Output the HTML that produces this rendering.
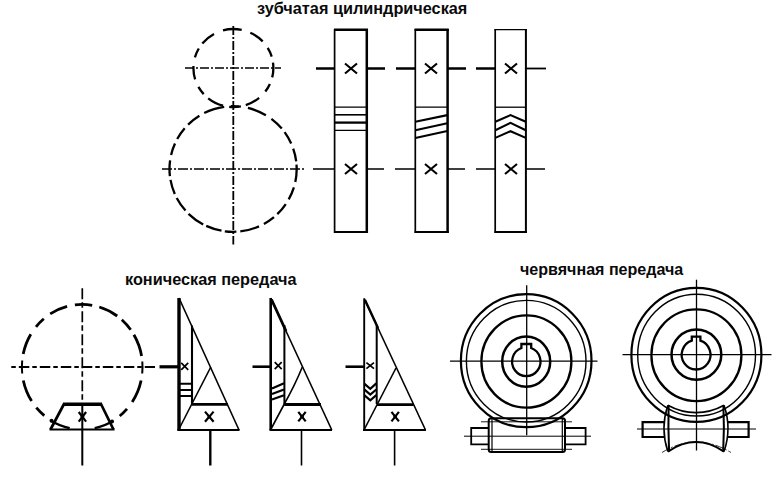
<!DOCTYPE html>
<html><head><meta charset="utf-8">
<style>
html,body{margin:0;padding:0;background:#fff;}
body{width:779px;height:478px;overflow:hidden;position:relative;font-family:"Liberation Sans",sans-serif;}
.t{position:absolute;font-weight:bold;font-size:17px;color:#0a0a0a;white-space:nowrap;line-height:1;transform:scaleX(0.957);transform-origin:0 0;}
svg{position:absolute;left:0;top:0;}
</style></head><body>
<div class="t" id="t1" style="left:257.1px;top:-0.1px;">зубчатая цилиндрическая</div>
<div class="t" id="t2" style="left:124.8px;top:270.9px;">коническая передача</div>
<div class="t" id="t3" style="left:519.9px;top:261.1px;transform:scaleX(0.945);">червячная передача</div>
<svg width="779" height="478" viewBox="0 0 779 478" fill="none" stroke="#000" stroke-linecap="butt">

<g id="circles">
<path d="M223.0 30.3A40 39 0 0 1 241.7 29.9M250.3 32.7A40 39 0 0 1 262.7 41.4M267.7 47.9A40 39 0 0 1 271.7 56.6M273.0 62.6A40 39 0 0 1 272.2 77.4M269.9 83.9A40 39 0 0 1 265.3 91.5M259.1 97.9A40 39 0 0 1 245.8 105.1M239.0 106.6A40 39 0 0 1 229.2 106.8M223.0 105.7A40 39 0 0 1 208.2 98.3M203.7 94.1A40 39 0 0 1 198.4 86.9M195.1 79.4A40 39 0 0 1 193.5 66.0M194.9 57.3A40 39 0 0 1 198.8 48.5M202.3 43.5A40 39 0 0 1 214.0 33.9" stroke-width="2.3"/>
<path d="M230.9 106.2A63.6 62.8 0 0 1 240.9 106.7M247.9 107.9A63.6 62.8 0 0 1 265.9 115.2M271.4 118.8A63.6 62.8 0 0 1 281.8 128.6M284.6 132.1A63.6 62.8 0 0 1 291.2 143.5M293.2 148.6A63.6 62.8 0 0 1 296.2 161.3M296.5 164.6A63.6 62.8 0 0 1 295.3 182.1M293.9 187.4A63.6 62.8 0 0 1 288.7 199.4M285.8 204.1A63.6 62.8 0 0 1 277.3 214.2M274.0 217.1A63.6 62.8 0 0 1 263.9 223.9M259.0 226.4A63.6 62.8 0 0 1 240.3 231.4M236.4 231.7A63.6 62.8 0 0 1 224.8 231.3M221.5 230.7A63.6 62.8 0 0 1 206.2 225.9M203.2 224.4A63.6 62.8 0 0 1 188.5 213.8M185.5 210.6A63.6 62.8 0 0 1 176.7 198.0M174.8 194.0A63.6 62.8 0 0 1 170.5 179.9M169.9 176.1A63.6 62.8 0 0 1 170.1 160.3M171.1 154.9A63.6 62.8 0 0 1 175.0 143.5M177.2 139.0A63.6 62.8 0 0 1 184.7 128.2M188.1 124.6A63.6 62.8 0 0 1 199.4 115.7M204.2 113.0A63.6 62.8 0 0 1 224.2 106.8" stroke-width="2.3"/>
<line x1="233.3" y1="26" x2="233.3" y2="244.5" stroke-width="1.8" stroke-dasharray="9 2 2 2"/>
<line x1="185" y1="68" x2="281" y2="68" stroke-width="1.6" stroke-dasharray="9 2 2 2"/>
<line x1="162" y1="169" x2="306" y2="169" stroke-width="1.3" stroke-dasharray="10 2 2 2"/>
</g>
<g id="cyl" stroke-width="2">
<path d="M334.6 29V233M415.3 29V233M495.2 29V233" stroke-width="1.7"/>
<path d="M366.8 29V233M447.6 29V233" stroke-width="2.5"/>
<path d="M525.9 29V233" stroke-width="2"/>
<path d="M334 29.8H368M414.6 29.8H448.8" stroke-width="2.5"/>
<path d="M494.5 29.6H527" stroke-width="1.4"/>
<path d="M334 232H368M414.6 232H448.8M494.5 232H527" stroke-width="2"/>
<path d="M316 68.5H335M367 68.5H385M396 68.5H415M447.5 68.5H466M476 68.5H495" stroke-width="2.4"/><path d="M526 68.5H546" stroke-width="1.8"/>
<path d="M313 169H335M367 169H384M395 169H415M447.5 169H465M476 169H495M526 169H545" stroke-width="1.4"/>
<g stroke-width="2.1">
<path d="M345 63.5l12 10m0-10l-12 10"/>
<path d="M425 63.5l12 10m0-10l-12 10"/>
<path d="M505 63.5l12 10m0-10l-12 10"/>
<path d="M345 164l12 10m0-10l-12 10"/>
<path d="M425 164l12 10m0-10l-12 10"/>
<path d="M505 164l12 10m0-10l-12 10"/>
</g>
<path d="M335 107.2H367M335 130.4H367" stroke-width="1.3"/><path d="M335 114.8H367" stroke-width="1.6"/><path d="M335 122.6H367" stroke-width="2.3"/>
<path d="M415.3 107.2H447.3" stroke-width="1.3"/><path d="M415.3 121.8L447.3 115.1M415.3 130.2L447.3 123.2M415.3 138L447.3 131" stroke-width="2.1"/>
<path d="M495.3 107.2H525.8" stroke-width="1.3"/><path d="M495.3 121.8L510.5 115.1L525.8 121.8M495.3 130.2L510.5 122.8L525.8 130.2M495.3 137.9L510.5 131.2L525.8 137.9" stroke-width="2.1" stroke-linejoin="miter"/>
</g>
<g id="con0">
<path d="M74.9 304.9A60.3 62.6 0 0 1 92.2 305.3M99.3 307.0A60.3 62.6 0 0 1 117.2 316.0M121.8 319.8A60.3 62.6 0 0 1 130.7 329.8M133.9 334.8A60.3 62.6 0 0 1 141.6 356.1M141.1 380.5A60.3 62.6 0 0 1 132.2 402.0M127.0 408.9A60.3 62.6 0 0 1 119.7 416.0M44.3 415.6A60.3 62.6 0 0 1 36.3 407.7M31.6 401.1A60.3 62.6 0 0 1 23.3 380.5M23.2 354.0A60.3 62.6 0 0 1 30.8 334.3M36.0 326.8A60.3 62.6 0 0 1 43.8 318.7M50.2 313.9A60.3 62.6 0 0 1 67.1 306.4" stroke-width="2.8"/>
<path d="M142.3 361.5A60.3 62.6 0 0 1 142.2 373.5M22.2 373.5A60.3 62.6 0 0 1 22.2 360.5" stroke-width="2"/>
<path d="M113.3 420.7A60.3 62.6 0 0 1 94.7 428.2M69.7 428.2A60.3 62.6 0 0 1 51.1 420.7" stroke-width="2.3"/><circle cx="51.5" cy="420.8" r="2" fill="#000" stroke="none"/><circle cx="112" cy="421.6" r="2" fill="#000" stroke="none"/>
<line x1="11.3" y1="367" x2="155" y2="367" stroke-width="2" stroke-dasharray="4.5 3 10.5 3"/>
<line x1="82.3" y1="288.2" x2="82.3" y2="404" stroke-width="1.7" stroke-dasharray="11 3 5.5 3.5"/>
<line x1="82.3" y1="404" x2="82.3" y2="465.5" stroke-width="2"/>
<path d="M63 404.2H102" stroke-width="3.4"/>
<path d="M64 404L50.5 429.5M113.5 429.5L101 404" stroke-width="2.7"/><path d="M49.5 429.5H114.5" stroke-width="2.2"/>
<path d="M78.7 412l7.4 9.6m0-9.6l-7.4 9.6" stroke-width="2.2"/><circle cx="82.4" cy="416.8" r="2" fill="#000" stroke="none"/>
</g>
<g id="con1" stroke-width="1.6">
<line x1="179" y1="298" x2="179" y2="430" stroke-width="3.4"/>
<line x1="179" y1="298" x2="239" y2="430"/>
<line x1="192" y1="325.5" x2="192" y2="404" stroke-width="2.1"/>
<line x1="210.8" y1="367" x2="178.5" y2="430"/>
<line x1="192" y1="404.4" x2="227.8" y2="404.4" stroke-width="2.9"/>
<line x1="177.3" y1="430" x2="239.5" y2="430" stroke-width="2"/>
<line x1="159.5" y1="366.8" x2="179" y2="366.8" stroke-width="3.2"/>
<path d="M180 383.8H192M180 390.1H192M180 396.1H192" stroke-width="2"/>
<path d="M181.2 362.8l7 7m0-7l-7 7" stroke-width="1.7"/>
<path d="M205 411.6l8.6 10.2m0-10.2l-8.6 10.2" stroke-width="2.2"/><circle cx="209.3" cy="416.7" r="1.8" fill="#000" stroke="none"/>
<line x1="210.3" y1="430" x2="210.3" y2="465.5" stroke-width="2.4"/>
</g>
<g id="con2" stroke-width="1.6">
<line x1="270.7" y1="298" x2="270.7" y2="430" stroke-width="2.6"/>
<line x1="270.7" y1="298" x2="331.8" y2="430"/>
<line x1="284.4" y1="325" x2="284.4" y2="404" stroke-width="2"/><line x1="271.5" y1="299.5" x2="286" y2="331" stroke-width="2.8"/>
<path d="M302.3 367Q295 385 284.3 404L270.5 430"/>
<line x1="284.2" y1="404.5" x2="321" y2="404.5" stroke-width="2.8"/>
<line x1="269.5" y1="430" x2="332" y2="430" stroke-width="2"/>
<line x1="252.5" y1="366.7" x2="270.7" y2="366.7" stroke-width="2.6"/>
<path d="M272 388.6L284 383.2M272 394L284 389.5M272 399.5L284 395.2" stroke-width="2.2"/>
<path d="M274.7 362.2l7 7m0-7l-7 7" stroke-width="1.7"/>
<path d="M298.3 411.8l7.4 9.6m0-9.6l-7.4 9.6" stroke-width="2.2"/><circle cx="302" cy="416.6" r="1.8" fill="#000" stroke="none"/>
<line x1="301.5" y1="430" x2="301.5" y2="465.5" stroke-width="1.6"/>
</g>
<g id="con3" stroke-width="1.6">
<line x1="364.2" y1="298.5" x2="364.2" y2="430" stroke-width="1.9"/>
<line x1="364.2" y1="298.5" x2="425.5" y2="430"/>
<line x1="376.7" y1="325.5" x2="376.7" y2="404" stroke-width="2"/><line x1="365" y1="300" x2="378" y2="328" stroke-width="2.4"/>
<line x1="396" y1="368" x2="364" y2="430"/>
<line x1="376.7" y1="404.7" x2="413.5" y2="404.7" stroke-width="2.8"/>
<line x1="363" y1="430" x2="426" y2="430" stroke-width="2"/>
<line x1="345.5" y1="366.7" x2="364.2" y2="366.7" stroke-width="2.6"/>
<path d="M364.5 383.9L370.3 388.9L376.3 383.4M364.5 389.6L370.3 394.6L376.3 389.5M364.5 395.3L370.3 400.3L376.3 395.2" stroke-width="2.2"/>
<path d="M366.4 362.7l7.6 6m0-6l-7.6 6" stroke-width="1.7"/>
<path d="M391.5 411.8l7.4 9.6m0-9.6l-7.4 9.6" stroke-width="2.2"/><circle cx="395.2" cy="416.6" r="1.8" fill="#000" stroke="none"/>
<line x1="394.6" y1="430" x2="394.6" y2="465.5" stroke-width="1.6"/>
</g>
<g id="worm1" stroke-width="1.4">
<ellipse cx="526.2" cy="360.7" rx="65.3" ry="66.5" stroke-width="2.2"/>
<ellipse cx="526.2" cy="361.2" rx="59.8" ry="60.8" stroke-width="1.4"/>
<ellipse cx="526.4" cy="361.5" rx="45" ry="46.1" stroke-width="2.3"/>
<ellipse cx="526.2" cy="361.6" rx="24" ry="25.1" stroke-width="2.5"/>
<path d="M521.4 348V344H531.2V348A14.2 14.5 0 1 1 521.4 348Z" stroke-width="2.3"/>
<line x1="450" y1="361.2" x2="597.5" y2="361.2" stroke-width="1.2"/>
<line x1="526.7" y1="285.3" x2="526.7" y2="435.2" stroke-width="1.3"/>
<rect x="488.7" y="418.2" width="76.3" height="33.8" rx="2.5" stroke-width="2"/>
<path d="M492 418V452M562.3 418V452" stroke-width="1.2"/>
<path d="M481 421.8H572M481 449.3H572" stroke-width="0.9"/>
<path d="M488.5 428H471.2V444.3H488.5M565.5 428H585.6V444.3H565.5" stroke-width="1.8"/>
<line x1="464" y1="436.2" x2="591" y2="436.2" stroke-width="1"/>
</g>
<g id="worm2" stroke-width="1.4">
<ellipse cx="696.4" cy="354.9" rx="65" ry="67" stroke-width="2.2"/>
<ellipse cx="696.6" cy="355.1" rx="58.9" ry="60.9" stroke-width="1.4"/>
<ellipse cx="696.4" cy="355.2" rx="45" ry="45.9" stroke-width="2.3"/>
<ellipse cx="696.4" cy="354.6" rx="24.9" ry="25.1" stroke-width="2.5"/>
<path d="M691.8 340.6V336.6H700.4V340.6A14.4 14.8 0 1 1 691.8 340.6Z" stroke-width="2.3"/>
<line x1="622.5" y1="354.6" x2="771.5" y2="354.6" stroke-width="1.2"/>
<line x1="696.5" y1="279.7" x2="696.5" y2="450.5" stroke-width="1.3"/>
<path d="M667.9 405.3Q660 428.5 667.9 451.6" stroke-width="1.6"/>
<path d="M668.6 405.3Q668 428.5 669.1 451.6" stroke-width="2"/>
<path d="M724 405.3Q732 428.5 724 451.6" stroke-width="1.6"/>
<path d="M723.4 405.3Q724.5 428.5 723.2 451.6" stroke-width="2"/>
<path d="M667.9 405.3A57.6 57.6 0 0 0 724 405.3" stroke-width="1.6"/>
<path d="M667.9 451.6Q696 432.5 724 451.6" stroke-width="2"/>
<path d="M662 452.5Q696 431.5 731 452.5" stroke-width="0.8" stroke-dasharray="8 2 2 2"/>
<path d="M664.5 422.2H642.6V437H664.5M727.5 422.2H748.6V437H727.5" stroke-width="2.2"/>
<line x1="637" y1="429" x2="756" y2="429" stroke-width="1"/>
</g>
</svg>
</body></html>
